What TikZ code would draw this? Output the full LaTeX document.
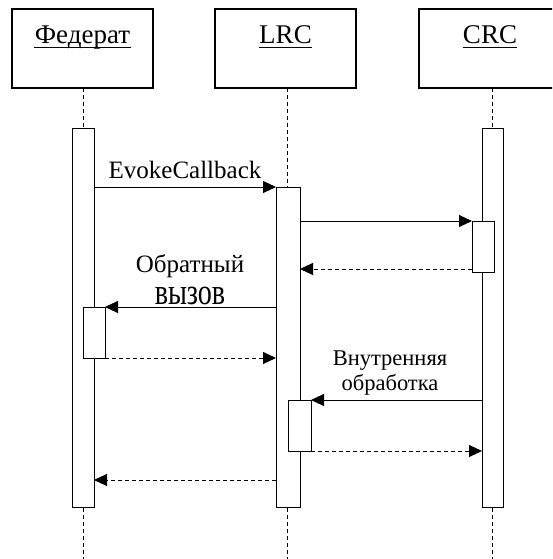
\documentclass[tikz,border=0pt]{standalone}
\usepackage{fontspec}
\setmainfont{Liberation Serif}
\usetikzlibrary{arrows.meta}
\begin{document}
\begin{tikzpicture}[x=1pt,y=-1pt,
  line width=0.9pt,
  objbox/.style={draw,fill=white,line width=1.1pt},
  bar/.style={draw,fill=white},
  life/.style={dash pattern=on 4pt off 3pt},
  msg/.style={-{Triangle[length=13pt,width=12pt]}},
  reply/.style={msg,dash pattern=on 4pt off 3pt},
  head/.style={font=\fontsize{27}{30}\selectfont,inner sep=0pt,anchor=base},
  lbl/.style={font=\fontsize{25}{28}\selectfont,inner sep=0pt,anchor=base},
  small/.style={font=\fontsize{22.5}{25}\selectfont,inner sep=0pt,anchor=base},
  uline/.style={line width=1.8pt},
]
\useasboundingbox (0,0) rectangle (552,559);
\clip (0,0) rectangle (552,559);

% object boxes
\draw[objbox] (12,9) rectangle (153,88);
\draw[objbox] (215,9) rectangle (356,88);
\draw[objbox] (419,9) rectangle (561,88);

\node[head] (tf) at (82.5,44) {Федерат};
\node[head] (tl) at (285.5,44) {LRC};
\node[head] (tc) at (490,44) {CRC};
\foreach \t in {tf,tl,tc}
  \draw[uline] ([yshift=-3.5pt]\t.base west) -- ([yshift=-3.5pt]\t.base east);

% lifelines
\coordinate (fTop) at (83,88);   \coordinate (fBot) at (83,559);
\coordinate (lTop) at (287,88);  \coordinate (lBot) at (287,559);
\coordinate (cTop) at (492,88);  \coordinate (cBot) at (492,559);
\draw[life] (fTop) -- (fBot);
\draw[life] (lTop) -- (lBot);
\draw[life] (cTop) -- (cBot);

% activation bars
\draw[bar] (72,128) rectangle (94,507);
\draw[bar] (276,187) rectangle (300,507);
\draw[bar] (482,128) rectangle (503,507);
% nested activations
\draw[bar] (83,307) rectangle (105,358);
\draw[bar] (288,400) rectangle (311,451);
\draw[bar] (472,221) rectangle (494,272);

% message end points
\coordinate (m1a) at (94,187);   \coordinate (m1b) at (276,187);
\coordinate (m2a) at (300,221);  \coordinate (m2b) at (472,221);
\coordinate (m3a) at (472,269);  \coordinate (m3b) at (300,269);
\coordinate (m4a) at (276,307);  \coordinate (m4b) at (105,307);
\coordinate (m5a) at (105,358);  \coordinate (m5b) at (276,358);
\coordinate (m6a) at (482,400);  \coordinate (m6b) at (311,400);
\coordinate (m7a) at (311,451);  \coordinate (m7b) at (482,451);
\coordinate (m8a) at (276,480);  \coordinate (m8b) at (94,480);

\draw[msg]   (m1a) -- (m1b);
\draw[msg]   (m2a) -- (m2b);
\draw[reply] (m3a) -- (m3b);
\draw[msg]   (m4a) -- (m4b);
\draw[reply] (m5a) -- (m5b);
\draw[msg]   (m6a) -- (m6b);
\draw[reply] (m7a) -- (m7b);
\draw[reply] (m8a) -- (m8b);

% message labels
\node[lbl] (l1) at (185,178) {EvokeCallback};
\node[lbl] (l4a) at (190,272) {Обратный};
\node[lbl] (l4b) at (190,304) {\scalebox{0.76}[1]{\fontsize{37}{40}\selectfont вызов}};
\node[small] (l6a) at (390,365) {Внутренняя};
\node[small] (l6b) at (390,390) {обработка};
\end{tikzpicture}
\end{document}
